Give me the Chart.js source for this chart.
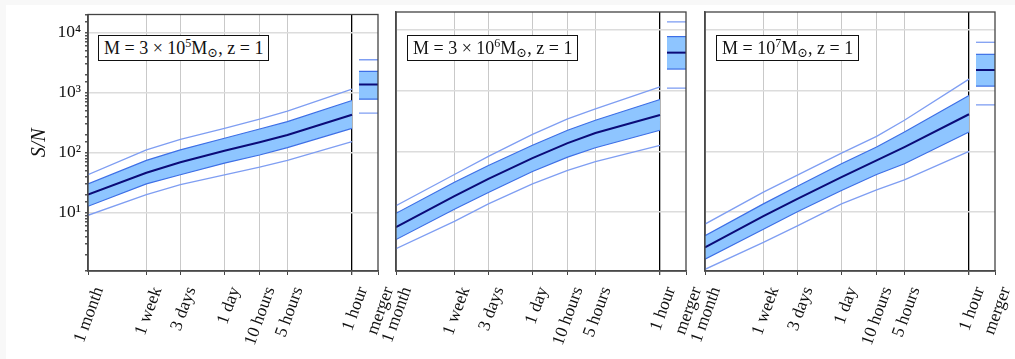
<!DOCTYPE html>
<html>
<head>
    <title>S/N versus time to merger</title>
    <script src="https://cdn.jsdelivr.net/npm/chart.js"></script>
    <style>
        body {
            margin: 0;
            background-color: #f8f8f8;
            width: 1015px;
            height: 359px;
            overflow: hidden;
            position: relative;
            font-family: "Liberation Serif", "DejaVu Serif", serif;
        }
        #sheet {
            position: absolute;
            left: 6px;
            top: 5px;
            right: 0;
            bottom: 0;
            background: white;
        }
        canvas {
            position: absolute;
            top: 0;
        }
        .massbox {
            position: absolute;
            top: 35px;
            background: white;
            border: 1.3px solid #111;
            font-size: 18px;
            line-height: 24px;
            padding: 0 5px;
            white-space: nowrap;
            color: #111;
        }
        .massbox sup { font-size: 12px; vertical-align: 7px; line-height: 0; }
        .massbox sub { font-size: 13px; vertical-align: -3px; line-height: 0; }
    </style>
</head>
<body>
    <div id="sheet"></div>
    <canvas id="panel1" width="413" height="359" style="left:0px"></canvas>
    <canvas id="panel2" width="365" height="359" style="left:356px"></canvas>
    <canvas id="panel3" width="365" height="359" style="left:665px"></canvas>
    <div class="massbox" style="left:98px">M = 3 × 10<sup>5</sup>M<sub>⊙</sub>, z = 1</div>
    <div class="massbox" style="left:407px">M = 3 × 10<sup>6</sup>M<sub>⊙</sub>, z = 1</div>
    <div class="massbox" style="left:716px">M = 10<sup>7</sup>M<sub>⊙</sub>, z = 1</div>

    <script>
        // time before merger, in hours
        const hoursToMerger = [720, 168, 72, 24, 10, 5, 1];
        const mergerX = 0.523;      // right edge of the axis, where "merger" sits
        const mergerStart = 0.84;   // where the merger markers begin
        const tickLabels = ['1 month', '1 week', '3 days', '1 day', '10 hours', '5 hours', '1 hour', 'merger'];
        const yTickValues = [10, 100, 1000, 10000];
        const yTickLabels = ['10¹', '10²', '10³', '10⁴'];

        // M = 3e5
        const median1 = [20, 46, 69, 107, 148, 196, 427];
        const bandHi1 = [30, 74, 111, 173, 247, 327, 737];
        const bandLo1 = [12.7, 30, 42.6, 66.5, 91, 121, 253];
        const outerHi1 = [42.6, 111, 166, 253, 361, 491, 1136];
        const outerLo1 = [9.0, 19.9, 29.1, 42.6, 57, 74, 152];
        const merger1 = { outerLo: 454, bandLo: 776, median: 1357, bandHi: 2259, outerHi: 3524 };

        // M = 3e6
        const median2 = [5.6, 18.2, 35.2, 77.6, 137, 201, 400];
        const bandHi2 = [9.5, 31, 58.6, 126, 223, 327, 718];
        const bandLo2 = [3.5, 11.1, 20.9, 46.6, 80.5, 115, 223];
        const outerHi2 = [12.7, 41.6, 82.6, 191, 344, 503, 1165];
        const outerLo2 = [2.47, 7.0, 13.6, 29.1, 48.4, 67.5, 126];
        const merger2 = { outerLo: 1107, bandLo: 2286, median: 4266, bandHi: 7850, outerHi: 13740 };

        // M = 1e7
        const median3 = [2.6, 8.5, 16.4, 37.6, 71, 118, 410];
        const bandHi3 = [4.05, 13.6, 26.6, 62.5, 118, 209, 837];
        const bandLo3 = [1.66, 5.2, 10.1, 22.6, 41.6, 62.5, 209];
        const outerHi3 = [6.3, 21.2, 40.5, 93.8, 177, 327, 1560];
        const outerLo3 = [1.13, 3.14, 5.9, 13.6, 23.2, 33.9, 100];
        const merger3 = { outerLo: 586, bandLo: 1195, median: 2203, bandHi: 4000, outerHi: 6324 };

        const medianColor = '#0b0b78';
        const bandEdge = '#3d6fe6';
        const bandFill = '#8ec5ff';
        const outerColor = '#7f9ef2';
        const serif = '"Liberation Serif", "DejaVu Serif", serif';

        const pts = ys => hoursToMerger.map((h, i) => ({ x: h, y: ys[i] }));
        const seg = y => [{ x: mergerStart, y: y }, { x: mergerX, y: y }];

        function lineSet(data, color, width, fill) {
            return {
                data: data,
                borderColor: color,
                borderWidth: width,
                pointRadius: 0,
                fill: fill ? '+1' : false,
                backgroundColor: bandFill,
                tension: 0
            };
        }

        function buildDatasets(med, hi, lo, oHi, oLo, m) {
            return [
                lineSet(pts(med), medianColor, 2),
                lineSet(pts(hi), bandEdge, 1.2, true),
                lineSet(pts(lo), bandEdge, 1.2),
                lineSet(pts(oHi), outerColor, 1.3),
                lineSet(pts(oLo), outerColor, 1.3),
                lineSet(seg(m.median), medianColor, 2),
                lineSet(seg(m.bandHi), bandEdge, 1.2, true),
                lineSet(seg(m.bandLo), bandEdge, 1.2),
                lineSet(seg(m.outerHi), outerColor, 1.3),
                lineSet(seg(m.outerLo), outerColor, 1.3)
            ];
        }

        const frame = {
            id: 'frame',
            afterDraw(chart) {
                const a = chart.chartArea;
                const c = chart.ctx;
                c.save();
                c.strokeStyle = '#444';
                c.lineWidth = 1.3;
                c.strokeRect(a.left, a.top, a.right - a.left, a.bottom - a.top);
                c.restore();
            }
        };

        function makePanel(id, datasets, first) {
            const yAxisWidth = first ? 88 : 40;
            new Chart(document.getElementById(id), {
                type: 'line',
                data: { datasets: datasets },
                plugins: [frame],
                options: {
                    responsive: false,
                    animation: false,
                    layout: { padding: { top: 12, right: 35, left: 0, bottom: 0 } },
                    plugins: {
                        legend: { display: false },
                        tooltip: { enabled: false },
                        filler: { drawTime: 'beforeDatasetsDraw' }
                    },
                    scales: {
                        x: {
                            type: 'logarithmic',
                            reverse: true,
                            min: mergerX,
                            max: 720,
                            afterBuildTicks: s => { s.ticks = hoursToMerger.concat([mergerX]).map(v => ({ value: v })); },
                            afterFit: s => { s.height = 88; },
                            grid: {
                                color: c => c.index === 6 ? '#000' : (c.index === 7 ? 'rgba(0,0,0,0)' : '#c9c9c9'),
                                lineWidth: c => c.index === 6 ? 1.3 : 1,
                                tickColor: '#444',
                                tickLength: 4
                            },
                            border: { color: '#555', width: 1.5 },
                            ticks: {
                                autoSkip: false,
                                minRotation: 70,
                                maxRotation: 70,
                                labelOffset: 11,
                                padding: 9,
                                color: '#111',
                                font: { family: serif, size: 17.5 },
                                callback: (v, i) => tickLabels[i]
                            }
                        },
                        y: {
                            type: 'logarithmic',
                            min: 1.06,
                            max: 20000,
                            afterFit: s => { s.width = yAxisWidth; },
                            grid: {
                                color: c => c.tick && yTickValues.includes(c.tick.value) ? '#dcdcdc' : 'rgba(0,0,0,0)',
                                lineWidth: 1.5,
                                drawTicks: first,
                                tickColor: '#555',
                                tickLength: 3
                            },
                            border: { color: '#555', width: 1.5 },
                            ticks: {
                                display: first,
                                autoSkip: false,
                                padding: 4,
                                color: '#111',
                                font: { family: serif, size: 17.5 },
                                callback: v => {
                                    const k = yTickValues.indexOf(v);
                                    return k >= 0 ? yTickLabels[k] : '';
                                }
                            },
                            title: {
                                display: first,
                                text: 'S/N',
                                color: '#111',
                                padding: { top: 28, bottom: 0 },
                                font: { family: serif, size: 20, style: 'italic' }
                            }
                        }
                    }
                }
            });
        }

        makePanel('panel1', buildDatasets(median1, bandHi1, bandLo1, outerHi1, outerLo1, merger1), true);
        makePanel('panel2', buildDatasets(median2, bandHi2, bandLo2, outerHi2, outerLo2, merger2), false);
        makePanel('panel3', buildDatasets(median3, bandHi3, bandLo3, outerHi3, outerLo3, merger3), false);
    </script>
</body>
</html>
